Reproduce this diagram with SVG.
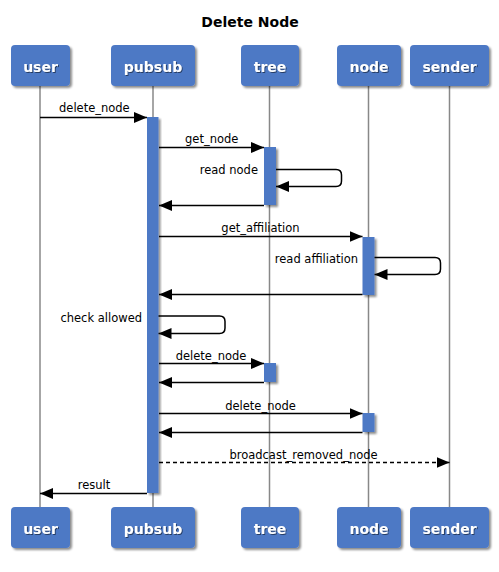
<svg xmlns="http://www.w3.org/2000/svg" width="499" height="572" viewBox="0 0 499 572">
<defs>
<filter id="sh" x="-20%" y="-20%" width="150%" height="160%">
<feGaussianBlur in="SourceAlpha" stdDeviation="1.2"/>
<feOffset dx="2" dy="2" result="b"/>
<feComponentTransfer><feFuncA type="linear" slope="0.45"/></feComponentTransfer>
<feMerge><feMergeNode/><feMergeNode in="SourceGraphic"/></feMerge>
</filter>
<filter id="tsh" x="-10%" y="-20%" width="130%" height="150%">
<feGaussianBlur in="SourceAlpha" stdDeviation="0.6"/>
<feOffset dx="1" dy="1"/>
<feComponentTransfer><feFuncA type="linear" slope="0.5"/></feComponentTransfer>
<feMerge><feMergeNode/><feMergeNode in="SourceGraphic"/></feMerge>
</filter>
<marker id="ah" markerWidth="13" markerHeight="11" refX="13" refY="5.5" orient="auto" markerUnits="userSpaceOnUse">
<path d="M0,0 L13,5.5 L0,11 z" fill="#000"/>
</marker>
</defs>
<style>
.box{fill:#4e79c5;filter:url(#sh)}
.pl{font-family:"DejaVu Sans",Verdana,sans-serif;font-weight:bold;font-size:14px;fill:#fff;text-anchor:middle;filter:url(#tsh)}
.life{stroke:#888;stroke-width:1.5}
.act{fill:#4e79c5;filter:url(#sh)}
.msg{stroke:#000;stroke-width:1.5;fill:none;marker-end:url(#ah)}
.dash{stroke-dasharray:4,3}
.lbl{font-family:"DejaVu Sans",Verdana,sans-serif;font-size:11.5px;fill:#000}
.title{font-family:"DejaVu Sans",Verdana,sans-serif;font-weight:bold;font-size:14px;fill:#000;text-anchor:middle}
</style>
<rect width="499" height="572" fill="#fff"/>
<text class="title" x="250" y="27">Delete Node</text>
<g id="lifelines">
<line class="life" x1="40" y1="86" x2="40" y2="507"/>
<line class="life" x1="153" y1="86" x2="153" y2="507"/>
<line class="life" x1="269.5" y1="86" x2="269.5" y2="507"/>
<line class="life" x1="368.5" y1="86" x2="368.5" y2="507"/>
<line class="life" x1="449.5" y1="86" x2="449.5" y2="507"/>
</g>
<g id="user">
<rect class="box" x="11" y="45" width="59" height="41" rx="4"/>
<text class="pl" x="40.5" y="72">user</text>
<rect class="box" x="11" y="507" width="59" height="41" rx="4"/>
<text class="pl" x="40.5" y="534">user</text>
</g>
<g id="pubsub">
<rect class="box" x="111" y="45" width="84" height="41" rx="4"/>
<text class="pl" x="153" y="72">pubsub</text>
<rect class="box" x="111" y="507" width="84" height="41" rx="4"/>
<text class="pl" x="153" y="534">pubsub</text>
</g>
<g id="tree">
<rect class="box" x="241" y="45" width="58" height="41" rx="4"/>
<text class="pl" x="270" y="72">tree</text>
<rect class="box" x="241" y="507" width="58" height="41" rx="4"/>
<text class="pl" x="270" y="534">tree</text>
</g>
<g id="node">
<rect class="box" x="337" y="45" width="64" height="41" rx="4"/>
<text class="pl" x="369" y="72">node</text>
<rect class="box" x="337" y="507" width="64" height="41" rx="4"/>
<text class="pl" x="369" y="534">node</text>
</g>
<g id="sender">
<rect class="box" x="410" y="45" width="79" height="41" rx="4"/>
<text class="pl" x="449.5" y="72">sender</text>
<rect class="box" x="410" y="507" width="79" height="41" rx="4"/>
<text class="pl" x="449.5" y="534">sender</text>
</g>
<g id="activations">
<rect class="act" x="147" y="117" width="11.5" height="376"/>
<rect class="act" x="264" y="147" width="12" height="58"/>
<rect class="act" x="362.5" y="237" width="12" height="58"/>
<rect class="act" x="264" y="363" width="12" height="19"/>
<rect class="act" x="362.5" y="413" width="12" height="19"/>
</g>
<g id="connectors">
<line class="msg" x1="40" y1="117.5" x2="147" y2="117.5"/>
<text class="lbl" x="59" y="112">delete_node</text>
<line class="msg" x1="159" y1="147.5" x2="264" y2="147.5"/>
<text class="lbl" x="185" y="143">get_node</text>
<path class="msg" d="M276,169.5 H336 Q341.5,169.5 341.5,175 V181 Q341.5,186.5 336,186.5 H276"/>
<text class="lbl" x="258" y="174" text-anchor="end">read node</text>
<line class="msg" x1="264" y1="205.5" x2="159" y2="205.5"/>
<line class="msg" x1="159" y1="236.5" x2="362.5" y2="236.5"/>
<text class="lbl" x="260.5" y="232" text-anchor="middle">get_affiliation</text>
<path class="msg" d="M374.5,257.5 H435 Q440.5,257.5 440.5,263 V269 Q440.5,274.5 435,274.5 H374.5"/>
<text class="lbl" x="358" y="263" text-anchor="end">read affiliation</text>
<line class="msg" x1="362.5" y1="294.5" x2="159" y2="294.5"/>
<path class="msg" d="M158.5,316 H219.5 Q225,316 225,321.5 V328 Q225,333.5 219.5,333.5 H158.5"/>
<text class="lbl" x="142" y="321.5" text-anchor="end">check allowed</text>
<line class="msg" x1="159" y1="363.5" x2="264" y2="363.5"/>
<text class="lbl" x="211" y="359.5" text-anchor="middle">delete_node</text>
<line class="msg" x1="264" y1="382.5" x2="159" y2="382.5"/>
<line class="msg" x1="159" y1="413.5" x2="362.5" y2="413.5"/>
<text class="lbl" x="260.5" y="409.5" text-anchor="middle">delete_node</text>
<line class="msg" x1="362.5" y1="432.5" x2="159" y2="432.5"/>
<line class="msg dash" x1="159" y1="462.5" x2="449.5" y2="462.5"/>
<text class="lbl" x="303.5" y="459" text-anchor="middle">broadcast_removed_node</text>
<line class="msg" x1="147" y1="493.5" x2="40" y2="493.5"/>
<text class="lbl" x="94" y="489" text-anchor="middle">result</text>
</g>
</svg>
